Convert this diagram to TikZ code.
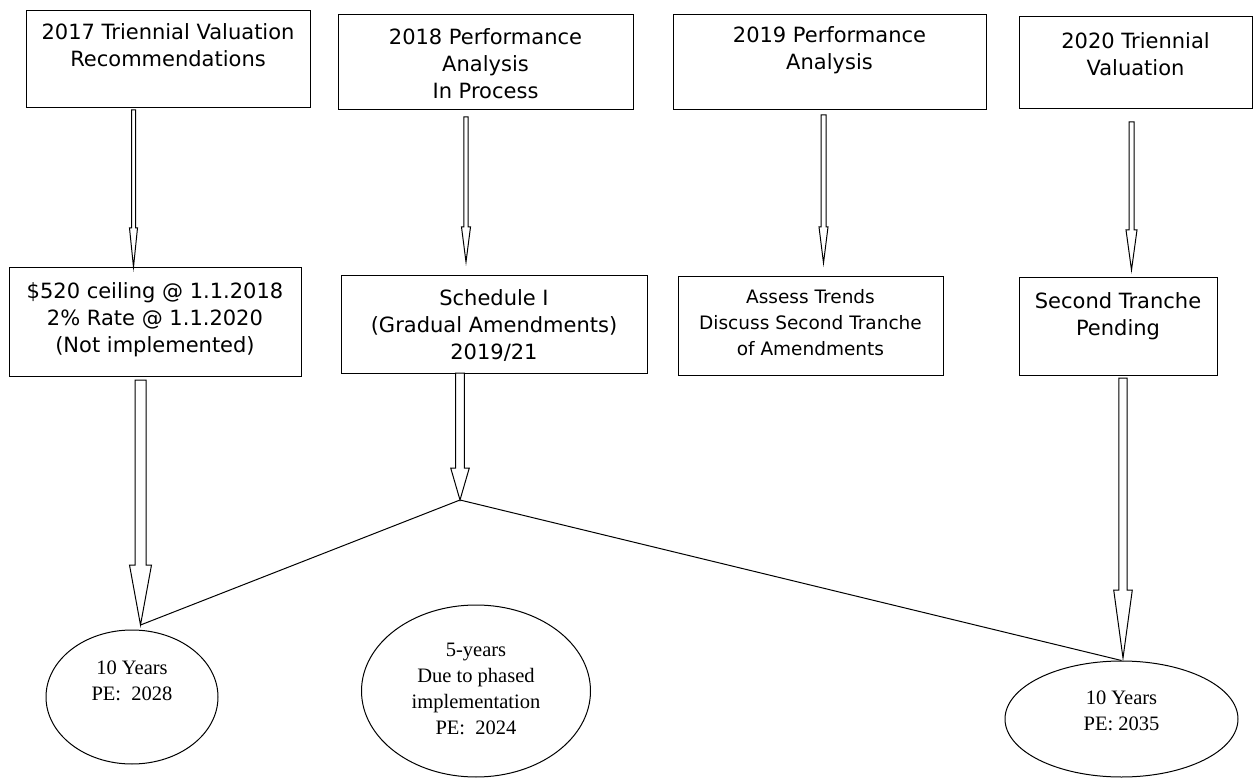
\documentclass[tikz,border=0pt]{standalone}
\usepackage{fontspec}
\setmainfont{Liberation Serif}
\newfontfamily\boxfont{DejaVu Sans}
\usetikzlibrary{shapes.geometric,calc}
\tikzset{
  boxshape/.style={draw, line width=1pt, rectangle, inner sep=0pt},
  boxtext/.style={font=\boxfont\fontsize{21}{27}\selectfont, align=center, inner sep=0pt, anchor=north},
  smallboxtext/.style={font=\boxfont\fontsize{18.5}{26}\selectfont, align=center, inner sep=0pt, anchor=north},
  elltext/.style={font=\fontsize{20.5}{26}\selectfont, align=center, inner sep=0pt, anchor=north},
  ell/.style={draw, ellipse, line width=1pt, inner sep=0pt},
  harrow/.style={draw, line width=1pt, fill=white, line join=miter},
  conn/.style={draw, line width=1pt},
}
% #1 start coord, #2 tip coord, #3 head length, #4 half shaft width, #5 half head width
\newcommand{\hollowarrow}[5]{%
  \draw[harrow] ($(#1)+(-#4,0)$) -- ($(#2)+(-#4,-#3)$) -- ($(#2)+(-#5,-#3)$) -- (#2)
    -- ($(#2)+(#5,-#3)$) -- ($(#2)+(#4,-#3)$) -- ($(#1)+(#4,0)$) -- cycle;}
\begin{document}
\begin{tikzpicture}[x=1pt,y=-1pt]
\useasboundingbox (0,0) rectangle (1254,778);

% top boxes
\node[boxshape, minimum width=284pt, minimum height=97pt] (b1) at (168,59.5) {};
\node[boxshape, minimum width=295pt, minimum height=95pt] (b2) at (485.5,62.5) {};
\node[boxshape, minimum width=313pt, minimum height=95pt] (b3) at (829.5,62.5) {};
\node[boxshape, minimum width=233pt, minimum height=92pt] (b4) at (1135.5,63) {};
\node[boxtext] (t1) at (168,23) {2017 Triennial Valuation\\Recommendations};
\node[boxtext] (t2) at (485.5,28) {2018 Performance\\Analysis\\In Process};
\node[boxtext] (t3) at (829.5,26) {2019 Performance\\Analysis};
\node[boxtext] (t4) at (1135.5,32) {2020 Triennial\\Valuation};

% second row boxes
\node[boxshape, minimum width=292pt, minimum height=108pt] (b5) at (155,322) {};
\node[boxshape, minimum width=306pt, minimum height=97pt] (b6) at (494,324.5) {};
\node[boxshape, minimum width=265pt, minimum height=98pt] (b7) at (810.5,326) {};
\node[boxshape, minimum width=198pt, minimum height=97pt] (b8) at (1118,326.5) {};
\node[boxtext] (t5) at (155,282.5) {\$520 ceiling @ 1.1.2018\\2\% Rate @ 1.1.2020\\(Not implemented)};
\node[boxtext] (t6) at (494,289) {Schedule I\\(Gradual Amendments)\\2019/21};
\node[smallboxtext] (t7) at (810.5,289) {Assess Trends\\Discuss Second Tranche\\of Amendments};
\node[boxtext] (t8) at (1118,292) {Second Tranche\\Pending};

% ellipses
\node[ell, minimum width=172pt, minimum height=134pt] (e1) at (132,697) {};
\node[ell, minimum width=229pt, minimum height=172pt] (e2) at (476,691) {};
\node[ell, minimum width=233pt, minimum height=116pt] (e3) at (1121.5,719) {};
\node[elltext] (te1) at (132,661) {10 Years\\PE:\ \ 2028};
\node[elltext] (te2) at (476,643) {5-years\\Due to phased\\implementation\\PE:\ \ 2024};
\node[elltext] (te3) at (1121.5,691) {10 Years\\PE: 2035};

% arrow end points
\coordinate (a1s) at (133.5,110);  \coordinate (a1t) at (133.5,267);
\coordinate (a2s) at (466,117);    \coordinate (a2t) at (466,262);
\coordinate (a3s) at (823.5,115);  \coordinate (a3t) at (823.5,263);
\coordinate (a4s) at (1131.5,122); \coordinate (a4t) at (1131.5,270);
\coordinate (a5s) at (140.5,380);  \coordinate (a5t) at (140.5,625);
\coordinate (a6s) at (460,373);    \coordinate (a6t) at (460,500);
\coordinate (a7s) at (1123,378);   \coordinate (a7t) at (1123,658);

% thin hollow arrows
\hollowarrow{a1s}{a1t}{39}{2}{4}
\hollowarrow{a2s}{a2t}{35}{2.2}{4.5}
\hollowarrow{a3s}{a3t}{36}{2.5}{4.5}
\hollowarrow{a4s}{a4t}{40}{2.5}{5.5}

% wide hollow arrows
\hollowarrow{a5s}{a5t}{60}{5.5}{11}
\hollowarrow{a6s}{a6t}{32}{4.3}{9.3}
\hollowarrow{a7s}{a7t}{68}{4.2}{9.3}

% connectors
\draw[conn] (a6t) -- (a5t);
\draw[conn] (a6t) -- (e3.north);
\end{tikzpicture}
\end{document}
